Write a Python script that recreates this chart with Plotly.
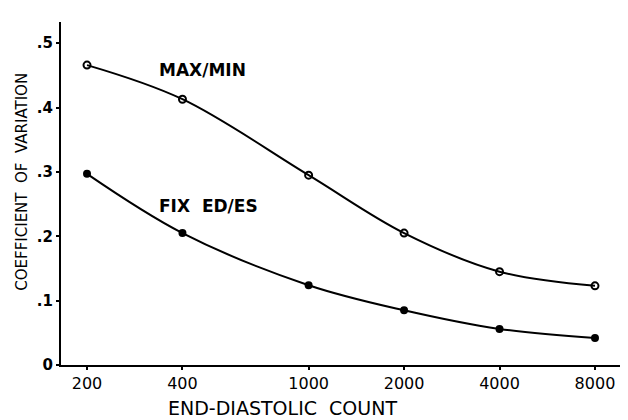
import plotly.graph_objects as go

counts = [200, 400, 1000, 2000, 4000, 8000]
max_min = [0.466, 0.413, 0.295, 0.205, 0.145, 0.123]
fix_ed_es = [0.297, 0.205, 0.124, 0.085, 0.056, 0.042]
x_tick_vals = [200, 400, 1000, 2000, 4000, 8000]
x_tick_text = ["200", "400", "1000", "2000", "4000", "8000"]
y_tick_vals = [0, 0.1, 0.2, 0.3, 0.4, 0.5]
y_tick_text = ["0", ".1", ".2", ".3", ".4", ".5"]

FONT = "DejaVu Sans"

fig = go.Figure()
fig.add_trace(go.Scatter(
    x=counts, y=max_min, mode="lines+markers",
    line=dict(color="black", width=2, shape="spline", smoothing=1.0),
    marker=dict(symbol="circle-open", size=7, color="black", line=dict(width=2, color="black")),
    showlegend=False,
))
fig.add_trace(go.Scatter(
    x=counts, y=fix_ed_es, mode="lines+markers",
    line=dict(color="black", width=2, shape="spline", smoothing=1.0),
    marker=dict(symbol="circle", size=8, color="black"),
    showlegend=False,
))

fig.add_annotation(x=0.172, y=0.860, xref="paper", yref="paper", text="MAX/MIN", showarrow=False,
                   xanchor="left", yanchor="middle",
                   font=dict(family=FONT, size=17, color="black", weight="bold"))
fig.add_annotation(x=0.172, y=0.464, xref="paper", yref="paper", text="FIX  ED/ES", showarrow=False,
                   xanchor="left", yanchor="middle",
                   font=dict(family=FONT, size=17, color="black", weight="bold"))
# axis titles
fig.add_annotation(x=0.397, y=-0.125, xref="paper", yref="paper", text="END-DIASTOLIC  COUNT",
                   showarrow=False, xanchor="center", yanchor="middle",
                   font=dict(family=FONT, size=19, color="black"))
fig.add_annotation(x=-0.070, y=0.534, xref="paper", yref="paper", text="COEFFICIENT  OF  VARIATION",
                   showarrow=False, xanchor="center", yanchor="middle", textangle=-90,
                   font=dict(family=FONT, size=15, color="black"))

fig.update_layout(
    width=628, height=420,
    margin=dict(l=61, r=8, t=22, b=55),
    paper_bgcolor="white", plot_bgcolor="white",
    font=dict(family=FONT, color="black"),
    hovermode=False,
)
fig.update_xaxes(
    type="log", range=[2.219, 3.982], automargin=False,
    tickvals=x_tick_vals, ticktext=x_tick_text,
    showgrid=False, zeroline=False,
    showline=True, linecolor="black", linewidth=2,
    ticks="outside", ticklen=3, tickwidth=2, tickcolor="black",
    tickfont=dict(family=FONT, size=16, color="black"),
)
fig.update_yaxes(
    range=[0, 0.533], automargin=False,
    tickvals=y_tick_vals, ticktext=y_tick_text,
    showgrid=False, zeroline=False,
    showline=True, linecolor="black", linewidth=2,
    ticks="outside", ticklen=3, tickwidth=2, tickcolor="black",
    tickfont=dict(family=FONT, size=15, color="black", weight="bold"),
)

fig.write_html("out.html", config={"displayModeBar": False},
               post_script="document.body.style.margin='0';document.body.style.overflow='hidden';")
